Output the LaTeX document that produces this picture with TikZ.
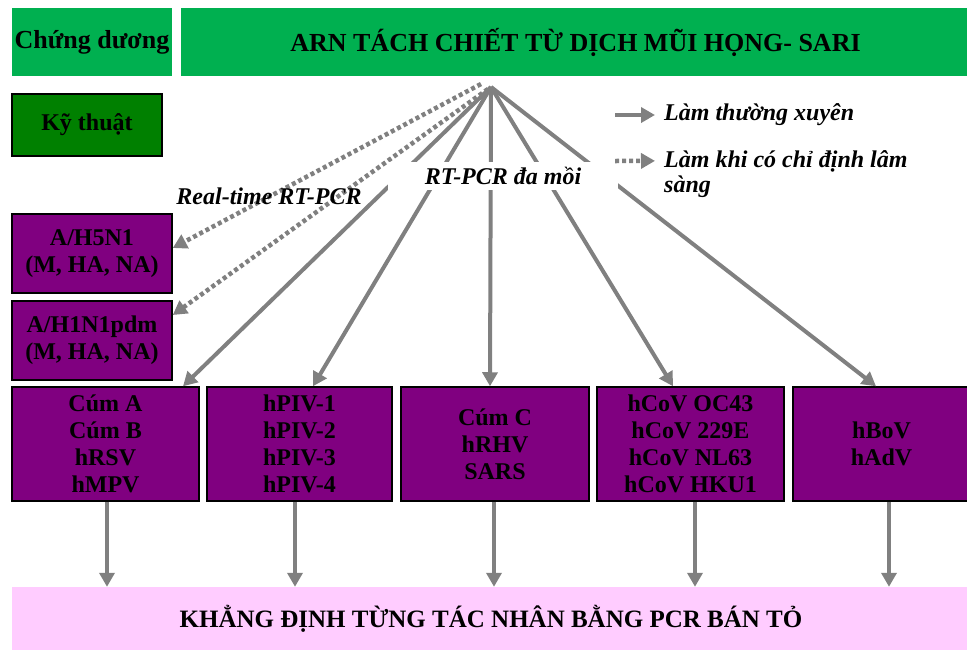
\documentclass[tikz,border=0pt]{standalone}
\usepackage{fontspec}
\setmainfont{Liberation Serif}
\usetikzlibrary{arrows.meta,calc}
\definecolor{topgreen}{HTML}{00B050}
\definecolor{darkgreen}{HTML}{008000}
\definecolor{purp}{HTML}{800080}
\definecolor{pinkbg}{HTML}{FFCCFF}
\definecolor{arrgray}{HTML}{808080}
\begin{document}
\begin{tikzpicture}[x=1pt,y=-1pt,
 vbox/.style={draw=black,line width=1.5pt,fill=purp,inner sep=0pt,align=center,font=\bfseries\fontsize{24}{27}\selectfont},
 greenbox/.style={fill=topgreen,inner sep=0pt,font=\bfseries\fontsize{26}{30}\selectfont},
 solidarr/.style={draw=arrgray,line width=4pt,line join=round,-{Triangle[length=14pt,width=15pt]}},
 dotarr/.style={draw=arrgray,line width=4.5pt,dash pattern=on 4pt off 3pt,-{Triangle[length=14pt,width=15pt]}},
 lbl/.style={font=\bfseries\itshape\fontsize{24}{23}\selectfont,inner sep=0pt}
]
\useasboundingbox (0,0) rectangle (967,654);

% top row
\node[greenbox,minimum width=160pt,minimum height=68pt] (cd) at (92,42) {Chứng dương};
\node[greenbox,minimum width=789pt,minimum height=68pt] (arn) at (575.5,42) {ARN TÁCH CHIẾT TỪ DỊCH MŨI HỌNG- SARI};
\node[draw=black,line width=1.5pt,fill=darkgreen,inner sep=0pt,minimum width=150pt,minimum height=62pt,font=\bfseries\fontsize{24}{27}\selectfont] (kt) at (87,125) {Kỹ thuật};

% left boxes
\node[vbox,minimum width=160pt,minimum height=79pt] (h5) at (92,253.5) {A/H5N1\\(M, HA, NA)};
\node[vbox,minimum width=160pt,minimum height=79pt] (h1) at (92,340.5) {A/H1N1pdm\\(M, HA, NA)};

% bottom row of boxes
\node[vbox,minimum width=187pt,minimum height=114pt] (b1) at (105.5,444) {Cúm A\\Cúm B\\hRSV\\hMPV};
\node[vbox,minimum width=185pt,minimum height=114pt] (b2) at (299.5,444) {hPIV-1\\hPIV-2\\hPIV-3\\hPIV-4};
\node[vbox,minimum width=188pt,minimum height=114pt] (b3) at (495,444) {Cúm C\\hRHV\\SARS};
\node[vbox,minimum width=187pt,minimum height=114pt] (b4) at (690.5,444) {hCoV OC43\\hCoV 229E\\hCoV NL63\\hCoV HKU1};
\node[vbox,minimum width=177pt,minimum height=114pt] (b5) at (881.5,444) {hBoV\\hAdV};

% pink box
\node[fill=pinkbg,inner sep=0pt,minimum width=958pt,minimum height=63pt,font=\bfseries\fontsize{25}{30}\selectfont] (pk) at (491,618.5) {KHẲNG ĐỊNH TỪNG TÁC NHÂN BẰNG PCR BÁN TỎ};

% source
\coordinate (src) at (491,87);

% dotted arrows
\draw[dotarr] ([xshift=-10pt,yshift=3pt]src) -- ([yshift=5.5pt]h5.east);
\draw[dotarr] ([xshift=-3pt,yshift=-2pt]src) -- ([yshift=25.5pt]h1.east);

% solid arrows
\draw[solidarr] (src) -- ([xshift=77.5pt]b1.north);
\draw[solidarr] (src) -- ([xshift=13.5pt]b2.north);
\draw[solidarr] (src) -- ([xshift=-5pt]b3.north);
\draw[solidarr] (src) -- ([xshift=-17.5pt]b4.north);
\draw[solidarr] (src) -- ([xshift=-5.5pt]b5.north);

% labels
\node[fill=white,inner sep=0pt,minimum width=230pt,minimum height=28pt,font=\bfseries\itshape\fontsize{24}{27}\selectfont] (mp) at (503,176) {RT-PCR đa mồi};
\node[lbl] (rt) at (269,196) {Real-time RT-PCR};

% legend
\coordinate (la1) at (615,115);
\coordinate (la2) at (615,161);
\node[lbl,anchor=west,inner xsep=9pt] (lt1) at (655,115) {Làm thường xuyên};
\node[lbl,anchor=base west,inner xsep=9pt] (lt2) at (655,167) {Làm khi có chỉ định lâm};
\node[lbl,anchor=base west,inner xsep=9pt] (lt3) at (655,192) {sàng};
\draw[solidarr] (la1) -- (lt1.west);
\draw[dotarr] (la2) -- (lt2.west);

% vertical arrows to pink box
\draw[solidarr] ([xshift=1.5pt]b1.south) -- ([xshift=1.5pt]b1.south |- pk.north);
\draw[solidarr] ([xshift=-4.5pt]b2.south) -- ([xshift=-4.5pt]b2.south |- pk.north);
\draw[solidarr] ([xshift=-1pt]b3.south) -- ([xshift=-1pt]b3.south |- pk.north);
\draw[solidarr] ([xshift=4.5pt]b4.south) -- ([xshift=4.5pt]b4.south |- pk.north);
\draw[solidarr] ([xshift=7.5pt]b5.south) -- ([xshift=7.5pt]b5.south |- pk.north);
\end{tikzpicture}
\end{document}
